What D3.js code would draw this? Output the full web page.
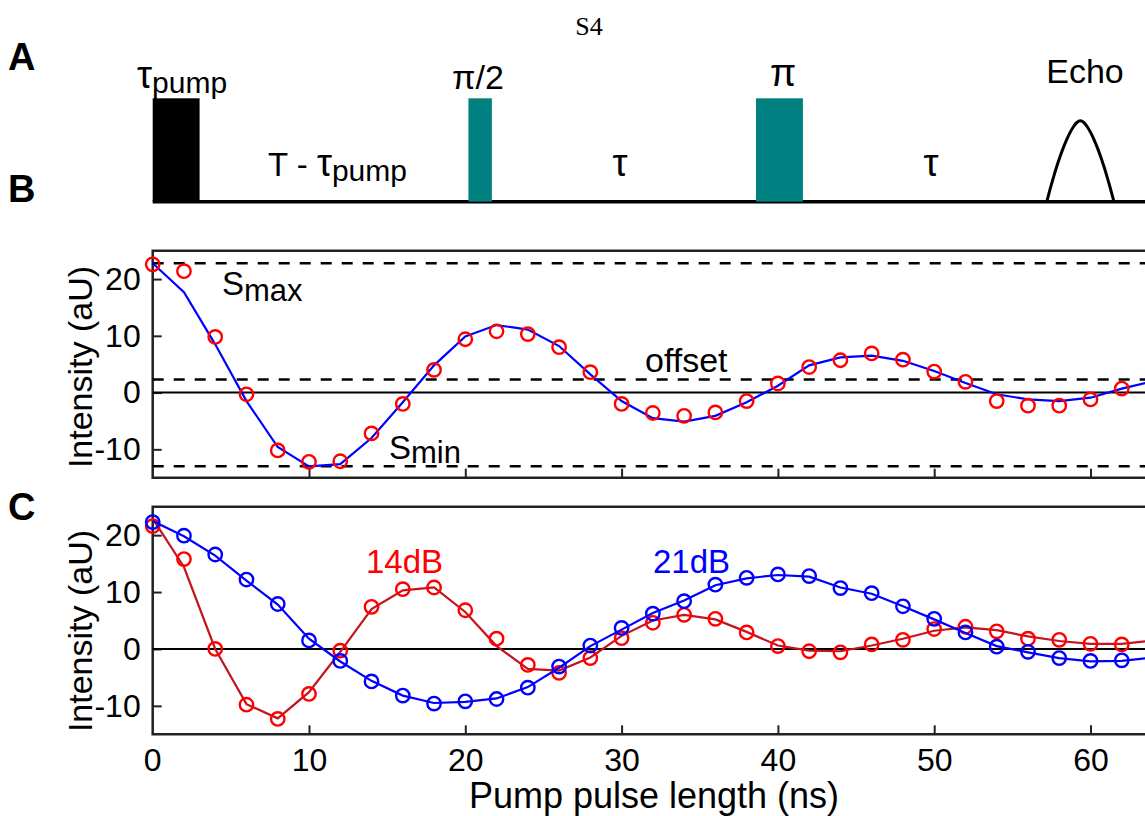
<!doctype html>
<html lang="en">
<head>
<meta charset="UTF-8">
<title>S4</title>
<style>
  body { margin: 0; background: #fff; }
  text { font-family: "Liberation Sans", Arial, sans-serif; fill: #000; }
</style>
</head>
<body>
<div class="container"></div>
<script src="https://d3js.org/d3.v7.min.js"></script>
<script>
  // ---- data ----
  const pumpNs = [0, 2, 4, 6, 8, 10, 12, 14, 16, 18, 20, 22, 24, 26, 28, 30,
                  32, 34, 36, 38, 40, 42, 44, 46, 48, 50, 52, 54, 56, 58, 60, 62];
  const fitNs = [0, 2, 4, 6, 8, 10, 12, 14, 16, 18, 20, 22, 24, 26, 28, 30,
                 32, 34, 36, 38, 40, 42, 44, 46, 48, 50, 52, 54, 56, 58, 60, 62, 64];

  // panel B
  const bPoints = [22.6, 21.4, 9.8, -0.3, -10.2, -12.2, -12.1, -7.2, -2.0, 4.0, 9.4, 10.8, 10.3, 8.0, 3.6,
                   -2.0, -3.6, -4.1, -3.5, -1.5, 1.6, 4.5, 5.7, 6.9, 5.8, 3.7, 1.9, -1.5, -2.3, -2.3, -1.2, 0.7];
  const bFit = [22.8, 17.7, 8.5, -1.5, -9.6, -13.0, -12.6, -8.0, -1.7, 4.8, 9.9, 11.9, 11.1, 8.2, 3.2,
                -1.5, -4.5, -5.1, -4.1, -1.7, 1.2, 4.8, 6.2, 6.5, 5.6, 3.8, 1.7, -0.3, -1.2, -1.5, -0.9, 0.7, 2.0];
  const levelNames = ['max', 'offset', 'min'];
  const levelValues = [22.8, 2.3, -13.0];

  // panel C
  const red14Points = [21.6, 15.8, 0, -9.8, -12.3, -7.9, -0.3, 7.4, 10.5, 10.8, 6.8, 1.8, -2.8, -4.2, -1.6,
                       1.9, 4.6, 6.0, 5.3, 2.9, 0.5, -0.4, -0.6, 0.8, 1.6, 3.5, 3.9, 3.1, 1.8, 1.6, 0.9, 0.8];
  const red14Fit = [22.9, 14.4, 0, -9.7, -12.2, -7.6, -0.5, 7.0, 10.3, 10.8, 6.5, 0.5, -3.5, -3.8, -1.5,
                    2.3, 5.0, 6.0, 5.2, 3.0, 0.6, -0.3, -0.4, 0.6, 1.8, 3.2, 3.8, 3.3, 2.2, 1.4, 0.9, 0.9, 1.5];
  const blue21Points = [22.3, 19.9, 16.6, 12.2, 7.9, 1.5, -2.1, -5.7, -8.2, -9.6, -9.2, -8.8, -6.8, -3.1, 0.6,
                        3.7, 6.2, 8.4, 11.3, 12.5, 13.1, 12.8, 10.7, 9.8, 7.5, 5.3, 2.9, 0.4, -0.5, -1.6, -2.1, -2.0];
  const blue21Fit = [22.5, 19.8, 16.4, 12.0, 7.8, 1.8, -2.2, -5.6, -8.2, -9.5, -9.3, -8.7, -6.7, -3.3, 0.5,
                     3.4, 6.3, 8.5, 11.2, 12.4, 13.0, 12.7, 10.8, 9.7, 7.5, 5.2, 2.8, 0.5, -0.6, -1.6, -2.2, -2.1, -1.5];

  const xTicks = [0, 10, 20, 30, 40, 50, 60];
  const yTicks = [-10, 0, 10, 20];

  // panel A pulse sequence, in the same ns units as the x axis
  const pulseNames = ['pump', 'pi2', 'pi'];
  const pulseStart = [0, 20.2, 38.6];
  const pulseEnd = [3.0, 21.7, 41.6];
  const echoSpan = [57.2, 61.5];

  // ---- layout ----
  const SVG_WIDTH = 1145;
  const SVG_HEIGHT = 816;
  const LEFT = 152.7;
  const TEAL = '#008080';
  const RED = '#ff0000';
  const DARK_RED = '#c4141c';
  const BLUE = '#0000ff';

  const svg = d3.select('.container')
    .append('svg')
    .attr('width', SVG_WIDTH)
    .attr('height', SVG_HEIGHT);

  const x = d3.scaleLinear()
    .domain([0, 64])
    .range([LEFT, LEFT + 6.4 * 156.3]);

  const yB = d3.scaleLinear().domain([-15, 25]).range([477.7, 250.7]);
  const yC = d3.scaleLinear().domain([-15, 25]).range([734.3, 506.7]);

  // ---- title and panel letters ----
  svg.append('text')
    .attr('x', 589).attr('y', 35)
    .attr('text-anchor', 'middle')
    .style('font-family', '"Liberation Serif", "Times New Roman", serif')
    .style('font-size', '26px')
    .text('S4');

  [['A', 70], ['B', 202], ['C', 520]].forEach(([t, yy]) => {
    svg.append('text')
      .attr('x', 8).attr('y', yy)
      .style('font-size', '38px')
      .style('font-weight', 'bold')
      .text(t);
  });

  // ---- panel A ----
  const baseY = 201.7;
  const topY = 98.3;

  svg.append('line')
    .attr('x1', x(0)).attr('x2', SVG_WIDTH)
    .attr('y1', baseY).attr('y2', baseY)
    .attr('stroke', '#000').attr('stroke-width', 3.5);

  svg.selectAll('.pulse')
    .data(pulseNames)
    .enter().append('rect')
    .attr('class', 'pulse')
    .attr('x', (d, i) => x(pulseStart[i]))
    .attr('y', topY)
    .attr('width', (d, i) => x(pulseEnd[i]) - x(pulseStart[i]))
    .attr('height', baseY - topY)
    .attr('fill', d => d === 'pump' ? '#000' : TEAL);

  // echo: an arch over the echo window
  const echoPts = d3.range(0, 1.0001, 0.05).map(t => {
    const u = 2 * t - 1;
    return [echoSpan[0] + t * (echoSpan[1] - echoSpan[0]), 1 - Math.pow(Math.abs(u), 1.6)];
  });
  svg.append('path')
    .datum(echoPts)
    .attr('fill', 'none')
    .attr('stroke', '#000')
    .attr('stroke-width', 3)
    .attr('d', d3.line()
      .x(d => x(d[0]))
      .y(d => baseY - d[1] * (baseY - 120))
      .curve(d3.curveBasis));

  // text with a lowered (subscript-like) tail
  function subText(sel, px, py, parts, shift) {
    const t = sel.append('text').attr('x', px).attr('y', py);
    parts.forEach(([str, size, dy]) => {
      t.append('tspan').attr('dy', dy || 0).style('font-size', size + 'px').text(str);
    });
    return t;
  }

  subText(svg, 137, 88, [['τ', 38], ['pump', 30, 5]]);
  subText(svg, 268, 176, [['T - ', 33], ['τ', 38], ['pump', 30, 5]]);

  svg.append('text').attr('x', 478).attr('y', 89).attr('text-anchor', 'middle')
    .style('font-size', '34px').text('π/2');
  svg.append('text').attr('x', 783).attr('y', 86).attr('text-anchor', 'middle')
    .style('font-size', '38px').text('π');
  svg.append('text').attr('x', 1085).attr('y', 83).attr('text-anchor', 'middle')
    .style('font-size', '34px').text('Echo');
  svg.append('text').attr('x', 620).attr('y', 176).attr('text-anchor', 'middle')
    .style('font-size', '38px').text('τ');
  svg.append('text').attr('x', 931).attr('y', 176).attr('text-anchor', 'middle')
    .style('font-size', '38px').text('τ');

  // ---- axes helper ----
  function drawAxes(y, top, bottom, labelCenter, showXLabels) {
    const g = svg.append('g');

    const xAxis = d3.axisBottom(x)
      .tickValues(xTicks.filter(d => d > 0))
      .tickSize(-9)
      .tickPadding(14)
      .tickFormat(d => showXLabels ? String(d) : '');
    const xg = g.append('g').attr('transform', `translate(0, ${bottom})`).call(xAxis);

    const yAxis = d3.axisLeft(y)
      .tickValues(yTicks)
      .tickSize(-9)
      .tickPadding(12)
      .tickFormat(d => String(d));
    const yg = g.append('g').attr('transform', `translate(${LEFT}, 0)`).call(yAxis);

    [xg, yg].forEach(a => {
      a.select('.domain').remove();
      a.selectAll('line').attr('stroke', '#222').attr('stroke-width', 2);
      a.selectAll('text')
        .style('font-family', '"Liberation Sans", Arial, sans-serif')
        .style('font-size', '32px')
        .attr('fill', '#000');
    });

    if (showXLabels) {
      g.append('text')
        .attr('x', x(0)).attr('y', bottom + 37)
        .attr('text-anchor', 'middle')
        .style('font-size', '32px')
        .text('0');
    }

    // box
    g.append('path')
      .attr('d', `M${SVG_WIDTH + 5},${top}H${LEFT}V${bottom}H${SVG_WIDTH + 5}`)
      .attr('fill', 'none')
      .attr('stroke', '#222')
      .attr('stroke-width', 2.5);

    // zero line
    g.append('line')
      .attr('x1', LEFT).attr('x2', SVG_WIDTH)
      .attr('y1', y(0)).attr('y2', y(0))
      .attr('stroke', '#000').attr('stroke-width', 2);

    g.append('text')
      .attr('transform', `translate(92, ${labelCenter}) rotate(-90)`)
      .attr('text-anchor', 'middle')
      .style('font-size', '34px')
      .text('Intensity (aU)');
  }

  function drawSeries(y, fitVals, pointVals, lineColor, dotColor) {
    svg.append('path')
      .datum(fitVals)
      .attr('fill', 'none')
      .attr('stroke', lineColor)
      .attr('stroke-width', 2.2)
      .attr('d', d3.line().x((d, i) => x(fitNs[i])).y(d => y(d)));

    svg.append('g').selectAll('circle')
      .data(pointVals)
      .enter().append('circle')
      .attr('cx', (d, i) => x(pumpNs[i]))
      .attr('cy', d => y(d))
      .attr('r', 6.7)
      .attr('fill', 'none')
      .attr('stroke', dotColor)
      .attr('stroke-width', 2.4);
  }

  // ---- panel B ----
  drawAxes(yB, 250.7, 477.7, 367, false);

  svg.append('g').selectAll('line')
    .data(levelValues)
    .enter().append('line')
    .attr('x1', LEFT).attr('x2', SVG_WIDTH)
    .attr('y1', d => yB(d)).attr('y2', d => yB(d))
    .attr('stroke', '#000')
    .attr('stroke-width', 2.5)
    .attr('stroke-dasharray', '11,10');

  drawSeries(yB, bFit, bPoints, BLUE, RED);

  subText(svg, 222, 295, [['S', 33], ['max', 31, 6]]);
  svg.append('text').attr('x', 645).attr('y', 372).style('font-size', '34px').text('offset');
  subText(svg, 389, 459, [['S', 33], ['min', 31, 4]]);

  // ---- panel C ----
  drawAxes(yC, 506.7, 734.3, 631, true);

  drawSeries(yC, red14Fit, red14Points, DARK_RED, RED);
  drawSeries(yC, blue21Fit, blue21Points, BLUE, BLUE);

  svg.append('text').attr('x', 366).attr('y', 573).style('font-size', '33px')
    .style('fill', RED).text('14dB');
  svg.append('text').attr('x', 653).attr('y', 573).style('font-size', '33px')
    .style('fill', BLUE).text('21dB');

  svg.append('text')
    .attr('x', 654).attr('y', 808)
    .attr('text-anchor', 'middle')
    .style('font-size', '36px')
    .text('Pump pulse length (ns)');
</script>
</body>
</html>
